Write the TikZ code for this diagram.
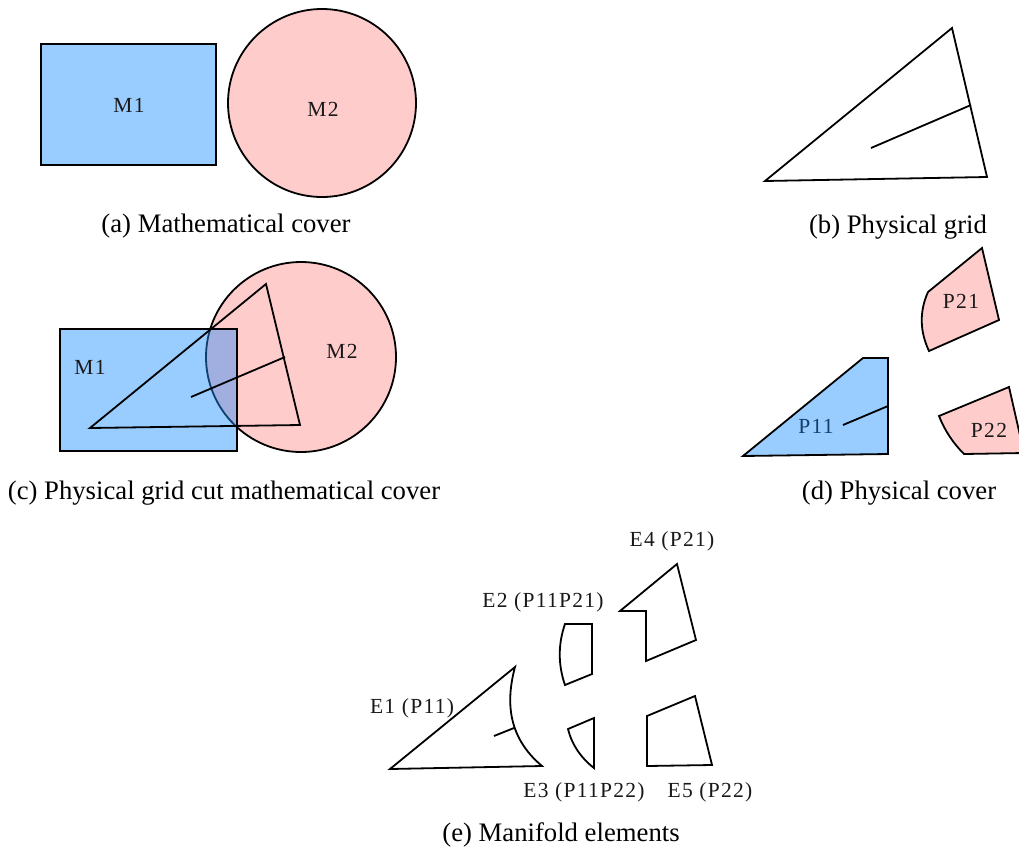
\documentclass[tikz,border=0pt]{standalone}
\usepackage{fontspec}
\setmainfont{Liberation Serif}
\newfontfamily\lblfont[LetterSpace=6]{Liberation Serif}
\definecolor{bluefill}{HTML}{99CCFF}
\definecolor{pinkfill}{HTML}{FFCCCC}
\definecolor{overlapfill}{HTML}{A0AFE0}
\definecolor{edgeblue}{HTML}{123F6B}
\definecolor{labelblue}{HTML}{123F6B}
\tikzset{
  x=1pt,y=-1pt,
  edge/.style={draw=black,line width=1.8pt,line join=miter},
  caption/.style={font=\fontsize{26.7}{30}\selectfont,inner sep=0pt,text=black},
  lbl/.style={font=\fontsize{21.5}{25}\lblfont,inner sep=0pt,text=black!90},
}
\begin{document}
\begin{tikzpicture}
\clip (0,0) rectangle (1019,846);
\useasboundingbox (0,0) rectangle (1019,846);
% (a)
\path[edge,fill=bluefill] (41,44) rectangle (216,165);
\path[edge,fill=pinkfill] (322,103) circle[radius=94];
\node[lbl] (m1a) at (129,105) {M1};
\node[lbl] (m2a) at (323,109) {M2};
\node[caption] (capa) at (226,226) {(a) Mathematical cover};
% (b)
\path[edge] (952,28) -- (987,177) -- (765,181) -- cycle;
\path[edge] (871,148) -- (971,105);
\node[caption] (capb) at (898,227) {(b) Physical grid};
% (c)
\path[edge,fill=pinkfill] (301,357) circle[radius=95];
\path[edge,fill=bluefill] (60,329) rectangle (237,451);
\begin{scope}
  \clip (60,329) rectangle (237,451);
  \fill[overlapfill] (301,357) circle[radius=95];
  \draw[edgeblue,line width=1.8pt] (301,357) circle[radius=95];
\end{scope}
\draw[black,line width=1.8pt] (60,329) rectangle (237,451);
\path[edge] (266,284) -- (300,425) -- (90,428) -- cycle;
\path[edge] (191,397) -- (285,357);
\node[lbl] (m1c) at (90,367) {M1};
\node[lbl] (m2c) at (342,351) {M2};
\node[caption] (capc) at (224,493) {(c) Physical grid cut mathematical cover};
% (d)
\path[edge,fill=pinkfill] (982,248) -- (999,320) -- (929,351) .. controls (920,332) and (919,312) .. (928,292) -- cycle;
\path[edge,fill=bluefill] (743,456) -- (863,358) -- (888,358) -- (888,454) -- cycle;
\path[edge] (843,425) -- (888,406);
\path[edge,fill=pinkfill] (1009,387) -- (1024,453) -- (964,454) .. controls (953,443) and (945,431) .. (939,416) -- cycle;
\node[lbl] (p21) at (961,301) {P21};
\node[lbl,text=labelblue] (p11) at (816,426) {P11};
\node[lbl] (p22) at (989,430) {P22};
\node[caption] (capd) at (899,493) {(d) Physical cover};
% (e)
\path[edge] (390,769) -- (515,667) .. controls (507,697) and (505,735) .. (542,766) -- cycle;
\path[edge] (494,736) -- (514,728);
\path[edge] (565,624) -- (592,624) -- (592,674) -- (565,685) .. controls (558,665) and (558,644) .. (565,624) -- cycle;
\path[edge] (568,729) -- (594,718) -- (594,768) .. controls (581,758) and (572,745) .. (568,729) -- cycle;
\path[edge] (677,564) -- (696,640) -- (646,661) -- (646,611) -- (620,611) -- cycle;
\path[edge] (647,716) -- (695,696) -- (712,765) -- (647,766) -- cycle;
\node[lbl] (e4) at (672,541) {E4 (P21)};
\node[lbl] (e2) at (543,602) {E2 (P11P21)};
\node[lbl] (e1) at (412,708) {E1 (P11)};
\node[lbl] (e3) at (584,792) {E3 (P11P22)};
\node[lbl] (e5) at (710,792) {E5 (P22)};
\node[caption] (cape) at (561,835) {(e) Manifold elements};
\end{tikzpicture}
\end{document}
